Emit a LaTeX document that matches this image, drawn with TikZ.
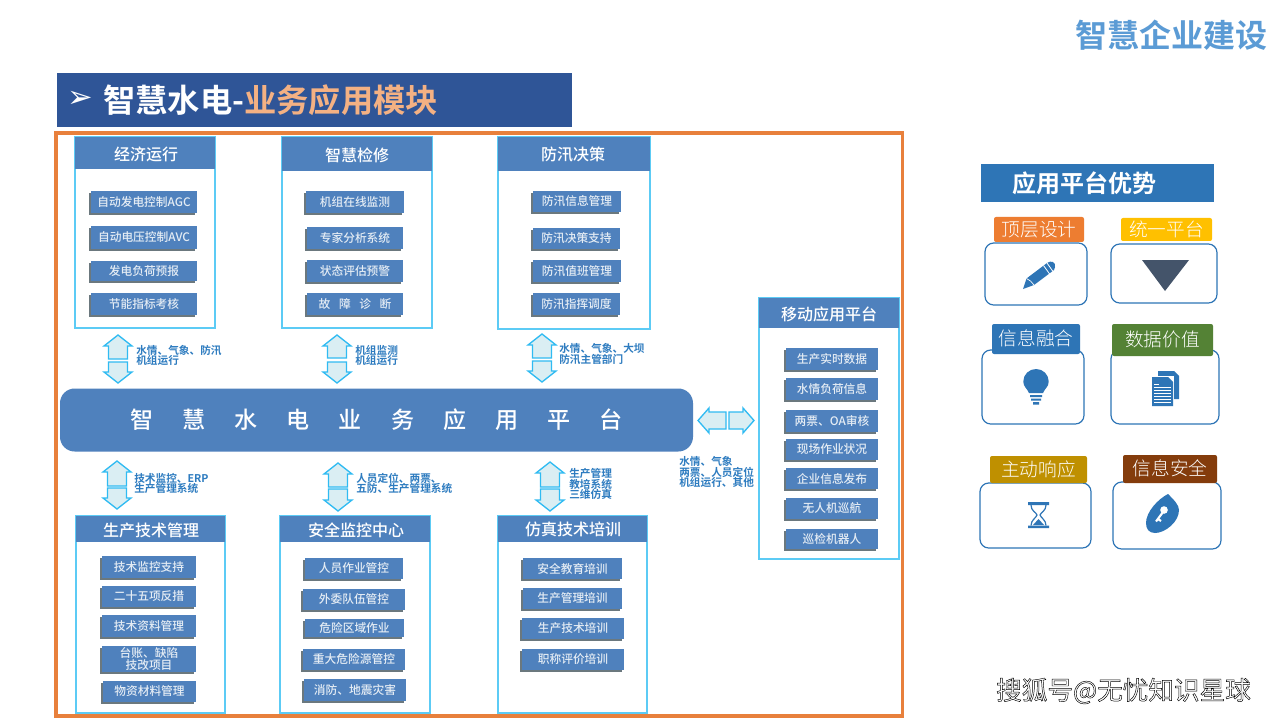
\documentclass[tikz,border=0pt]{standalone}
\usepackage{fontspec}
\usetikzlibrary{shadows,shapes.arrows}
\setmainfont{Noto Sans CJK SC}
\newfontfamily\cjkbold{Noto Sans CJK SC Bold}
\newfontfamily\cjkmed{Noto Sans CJK SC Medium}
\newfontfamily\cjklight{Noto Sans CJK SC Light}
\newfontfamily\symfont{DejaVu Sans}
\newcommand{\tightlines}{\lineskiplimit -100pt\relax}
\definecolor{barblue}{HTML}{2F5597}
\definecolor{frameor}{HTML}{E8803C}
\definecolor{hdrblue}{HTML}{4F81BD}
\definecolor{cyanline}{HTML}{5CCBF5}
\definecolor{arrowfill}{HTML}{DAEEF3}
\definecolor{arrowline}{HTML}{30BBF2}
\definecolor{labblue}{HTML}{2E7CC0}
\definecolor{appblue}{HTML}{2E75B6}
\definecolor{itemtext}{HTML}{E4ECF4}
\definecolor{darktri}{HTML}{44546A}
\definecolor{shadowgray}{HTML}{5C6A70}
\definecolor{titleblue}{HTML}{5B9BD5}
\definecolor{tagorange}{HTML}{ED7D31}
\definecolor{tagyellow}{HTML}{FFC000}
\definecolor{taggreen}{HTML}{548235}
\definecolor{taggold}{HTML}{BF9000}
\definecolor{tagbrown}{HTML}{843C0C}
\definecolor{peach}{HTML}{F4B183}
\tikzset{
  panelbox/.style={draw=cyanline,line width=.95pt,fill=white},
  hdrbox/.style={fill=hdrblue,inner sep=0pt},
  hdrtext/.style={text=white,font=\fontsize{12}{14}\cjkmed,inner sep=0pt},
  itembox/.style={fill=hdrblue,inner sep=0pt,
    drop shadow={shadow xshift=-1.4pt,shadow yshift=-1.2pt,fill=shadowgray,opacity=.9},
    text=itemtext,align=center,font={\fontsize{8.8}{9}\cjkmed\tightlines}},
  blockarrow/.style={draw=arrowline,fill=arrowfill,line width=1pt,line join=miter},
  sidelabel/.style={text=labblue,align=left,anchor=west,inner sep=0pt,font={\fontsize{8}{7.6}\cjkbold\tightlines}},
  tagbox/.style={inner sep=0pt,rounded corners=1.5pt,text=white,font=\fontsize{14}{16}\cjklight},
  iconbox/.style={draw=appblue,line width=.9pt,rounded corners=6.5pt,fill=white},
}
\newcommand{\tagtxt}[1]{\raisebox{1.5pt}{#1}}
\newcommand{\itemnode}[6]{\node[itembox,minimum width=#4*.75pt-#2*.75pt,minimum height=#5*.75pt-#3*.75pt] (#1) at ({(#2+#4)/2},{(#3+#5)/2}) {#6};}
\newcommand{\panel}[9]{%
  \node[panelbox,minimum width=#5*.75pt-#2*.75pt,minimum height=#6*.75pt-#3*.75pt,inner sep=0pt] (#1) at ({(#2+#5)/2},{(#3+#6)/2}) {};
  \node[hdrbox,minimum width=#5*.75pt-#2*.75pt,minimum height=#4*.75pt-#3*.75pt] (#1h) at ({(#2+#5)/2},{(#3+#4)/2}) {};
  \node[hdrtext] (#1t) at (#8,#9) {#7};
}
\newcommand{\vpair}[6]{%
  \path[blockarrow] (#2-9.5,#4) -- (#2-9.5,#3+11) -- (#2-14,#3+11) -- (#2,#3) -- (#2+14,#3+11) -- (#2+9.5,#3+11) -- (#2+9.5,#4) -- cycle;
  \path[blockarrow] (#2-9.5,#5) -- (#2-9.5,#6-11) -- (#2-14,#6-11) -- (#2,#6) -- (#2+14,#6-11) -- (#2+9.5,#6-11) -- (#2+9.5,#5) -- cycle;
}
\begin{document}
\begin{tikzpicture}[x=.75pt,y=-.75pt]
\useasboundingbox (0,0) rectangle (1280,720);
\fill[white] (0,0) rectangle (1280,720);

% titles
\node[inner sep=0pt,font=\fontsize{24}{28}\cjkbold,text=titleblue] (maintitle) at (1171,35) {智慧企业建设};
\node[fill=barblue,minimum width=515*.75pt,minimum height=54*.75pt,inner sep=0pt] (bar) at (314.5,100) {};
\node[text=white,inner sep=0pt,font=\fontsize{23}{25}\symfont] (bul) at (80,99) {➢};
\node[anchor=west,inner sep=0pt,text=white,font=\fontsize{24.2}{28}\cjkbold] (bartext) at (103,100) {智慧水电-\textcolor{peach}{业务应用模块}};

% frame
\draw[frameor,line width=2.4pt] (56,133) rectangle (902.5,716);

% upper panels
\panel{p1}{75}{137}{169}{215}{328}{经济运行}{146}{154}
\itemnode{a1}{91}{191}{197}{213}{自动发电控制AGC}
\itemnode{a2}{91}{226}{197}{249}{自动电压控制AVC}
\itemnode{a3}{91}{261}{197}{281}{发电负荷预报}
\itemnode{a4}{91}{293}{197}{315}{节能指标考核}

\panel{p2}{282}{137}{171}{432}{328}{智慧检修}{357}{155}
\itemnode{b1}{306}{191}{404}{213}{机组在线监测}
\itemnode{b2}{307}{227}{403}{249}{专家分析系统}
\itemnode{b3}{307}{260}{403}{282}{状态评估预警}
\itemnode{b4}{307}{293}{403}{315}{故\hspace{6.4pt}障\hspace{6.4pt}诊\hspace{6.4pt}断}

\panel{p3}{498}{137}{171}{650}{329}{防汛决策}{573}{155}
\itemnode{c1}{533}{191}{621}{212}{防汛信息管理}
\itemnode{c2}{533}{228}{620}{249}{防汛决策支持}
\itemnode{c3}{533}{260}{621}{282}{防汛值班管理}
\itemnode{c4}{533}{293}{620}{315}{防汛指挥调度}

% mobile panel
\panel{p7}{759}{298}{328}{899}{559}{移动应用平台}{829}{314}
\itemnode{m1}{786}{348}{878}{370}{生产实时数据}
\itemnode{m2}{786}{378}{878}{400}{水情负荷信息}
\itemnode{m3}{786}{410}{878}{432}{两票、OA审核}
\itemnode{m4}{786}{439}{878}{460}{现场作业状况}
\itemnode{m5}{786}{468}{878}{489}{企业信息发布}
\itemnode{m6}{786}{498}{878}{519}{无人机巡航}
\itemnode{m7}{786}{529}{878}{549}{巡检机器人}

% platform
\node[fill=hdrblue,rounded corners=11pt,minimum width=633*.75pt,minimum height=63*.75pt,inner sep=0pt,text=white,
  font=\fontsize{17.3}{20}\cjkmed] (plat) at (376.5,420) {智\hspace{21.8pt}慧\hspace{21.8pt}水\hspace{21.8pt}电\hspace{21.8pt}业\hspace{21.8pt}务\hspace{21.8pt}应\hspace{21.8pt}用\hspace{21.8pt}平\hspace{21.8pt}台};

% block arrows
\vpair{u1}{118}{335}{359}{362}{383}
\vpair{u2}{337}{335}{358}{362}{383}
\vpair{u3}{542}{334}{358}{361}{382}
\vpair{d1}{117}{461}{486}{488}{509}
\vpair{d2}{338}{463}{487}{489}{511}
\vpair{d3}{550}{462}{487}{489}{511}
\path[blockarrow] (726,412) -- (709,412) -- (709,408) -- (698,420.5) -- (709,433) -- (709,429) -- (726,429) -- cycle;
\path[blockarrow] (729,412) -- (743,412) -- (743,408) -- (754,420.5) -- (743,433) -- (743,429) -- (729,429) -- cycle;

% arrow labels
\node[sidelabel] (l1) at (136,355.5) {水情、气象、防汛\\机组运行};
\node[sidelabel] (l2) at (355,355.5) {机组监测\\机组运行};
\node[sidelabel] (l3) at (559,354) {水情、气象、大坝\\防汛主管部门};
\node[sidelabel] (l4) at (134,483.5) {技术监控、ERP\\生产管理系统};
\node[sidelabel] (l5) at (356,483) {人员定位、两票、\\五防、生产管理系统};
\node[sidelabel] (l6) at (569,484) {生产管理\\教培系统\\三维仿真};
\node[sidelabel] (l7) at (679,472) {水情、气象\\两票、人员定位\\机组运行、其他};

% lower panels
\panel{p4}{76}{516}{542}{225}{713}{生产技术管理}{151}{530}
\itemnode{e1}{102}{556}{196}{578}{技术监控支持}
\itemnode{e2}{102}{586}{196}{607}{二十五项反措}
\itemnode{e3}{102}{615}{196}{637}{技术资料管理}
\itemnode{e4}{102}{646}{196}{672}{台账、缺陷\\技改项目}
\itemnode{e5}{103}{681}{196}{702}{物资材料管理}

\panel{p5}{280}{516}{542}{430}{713}{安全监控中心}{356}{530}
\itemnode{f1}{305}{558}{403}{579}{人员作业管控}
\itemnode{f2}{303}{589}{405}{610}{外委队伍管控}
\itemnode{f3}{305}{619}{404}{637}{危险区域作业}
\itemnode{f4}{303}{649}{405}{670}{重大危险源管控}
\itemnode{f5}{304}{679}{406}{701}{消防、地震灾害}

\panel{p6}{498}{516}{542}{647}{713}{仿真技术培训}{573}{529}
\itemnode{g1}{523}{558}{622}{579}{安全教育培训}
\itemnode{g2}{523}{588}{622}{609}{生产管理培训}
\itemnode{g3}{522}{618}{624}{639}{生产技术培训}
\itemnode{g4}{522}{649}{624}{670}{职称评价培训}

% right column
\node[fill=appblue,minimum width=233*.75pt,minimum height=38*.75pt,inner sep=0pt] (advbar) at (1097.5,183) {};
\node[inner sep=0pt,text=white,font=\fontsize{18}{20}\cjkbold] (advtext) at (1084,183.5) {应用平台优势};

\draw[iconbox] (985,243) rectangle (1087,305);
\draw[iconbox] (1111,244) rectangle (1217,303);
\draw[iconbox] (982,350) rectangle (1084,424);
\draw[iconbox] (1111,350) rectangle (1219,424);
\draw[iconbox] (980,483) rectangle (1091,548);
\draw[iconbox] (1113,482) rectangle (1221,549);

\node[tagbox,fill=tagorange,minimum width=90*.75pt,minimum height=25*.75pt] (t1) at (1039,229.5) {\tagtxt{顶层设计}};
\node[tagbox,fill=tagyellow,minimum width=91*.75pt,minimum height=23*.75pt] (t2) at (1166.5,229.5) {\tagtxt{统一平台}};
\node[tagbox,fill=appblue,minimum width=88*.75pt,minimum height=30*.75pt] (t3) at (1036,339) {\tagtxt{信息融合}};
\node[tagbox,fill=taggreen,minimum width=101*.75pt,minimum height=32*.75pt] (t4) at (1162.5,340) {\tagtxt{数据价值}};
\node[tagbox,fill=taggold,minimum width=97*.75pt,minimum height=27*.75pt] (t5) at (1038.5,469.5) {\tagtxt{主动响应}};
\node[tagbox,fill=tagbrown,minimum width=94*.75pt,minimum height=28*.75pt] (t6) at (1170,469) {\tagtxt{信息安全}};

% pencil
\fill[appblue] (1023,289) -- (1026.5,278.5) -- (1047,263) .. controls (1051,260) and (1056,262) .. (1055,267) .. controls (1055,268) and (1054.5,269) .. (1054,270) -- (1034,285) -- cycle;
\draw[white,line width=.6pt] (1043.5,265.5) -- (1050,274.5) (1047,263) -- (1053,271.5);
\draw[white,line width=.5pt] (1026.5,278.5) -- (1030.5,281) -- (1034,285);
% triangle
\fill[darktri] (1142,260) -- (1189,260) -- (1165,291) -- cycle;
% bulb
\fill[appblue] (1029,393) .. controls (1027,388) and (1023.3,387) .. (1023.3,381.5) .. controls (1023.3,374.5) and (1029,369) .. (1036,369) .. controls (1043,369) and (1048.7,374.5) .. (1048.7,381.5) .. controls (1048.7,387) and (1045,388) .. (1043,393) -- cycle;
\fill[appblue] (1030,395) rectangle (1042,397) (1031,398.5) rectangle (1041,400.5) (1033,402) rectangle (1039,404.5);
% documents
\fill[appblue] (1158,371) -- (1174,371) -- (1179,376) -- (1179,399) -- (1158,399) -- cycle;
\fill[white] (1151,376) rectangle (1174,407);
\fill[appblue] (1152,377) -- (1168,377) -- (1173,382) -- (1173,406) -- (1152,406) -- cycle;
\draw[white,line width=.5pt] (1154,384) -- (1159,384) (1154,387) -- (1171,387) (1154,390) -- (1171,390) (1154,393) -- (1171,393) (1154,396) -- (1171,396) (1154,399.5) -- (1171,399.5) (1154,402.5) -- (1171,402.5);
% hourglass
\fill[appblue] (1028,502) rectangle (1049,505) (1028,525.5) rectangle (1049,528);
\draw[appblue,line width=.9pt] (1031,505) .. controls (1031,511) and (1036,512) .. (1037,515) .. controls (1036,518) and (1031,520) .. (1031,525.5) (1046,505) .. controls (1046,511) and (1041,512) .. (1040,515) .. controls (1041,518) and (1046,520) .. (1046,525.5);
\fill[appblue] (1033,525) -- (1038.5,519) -- (1044,525) -- cycle;
% drop key
\fill[appblue] (1168,494) .. controls (1174,500) and (1179,505) .. (1179,510) .. controls (1179,522) and (1165,533) .. (1155,533) .. controls (1149,533) and (1146,529) .. (1146,523) .. controls (1146,512) and (1158,499) .. (1168,494) -- cycle;
\fill[white] (1164,510) circle (3.8);
\draw[white,line width=1.6pt] (1163,512) -- (1156,521.5) (1158,519) -- (1161,521);

% watermark
\node[inner sep=0pt,text=white,font=\fontsize{19.2}{22}\selectfont] (wm) at (1123.5,691) {\special{pdf:code 2 Tr 0.35 w 0 0 0 RG}搜狐号@无忧知识星球\special{pdf:code 0 Tr}};
\end{tikzpicture}
\end{document}
